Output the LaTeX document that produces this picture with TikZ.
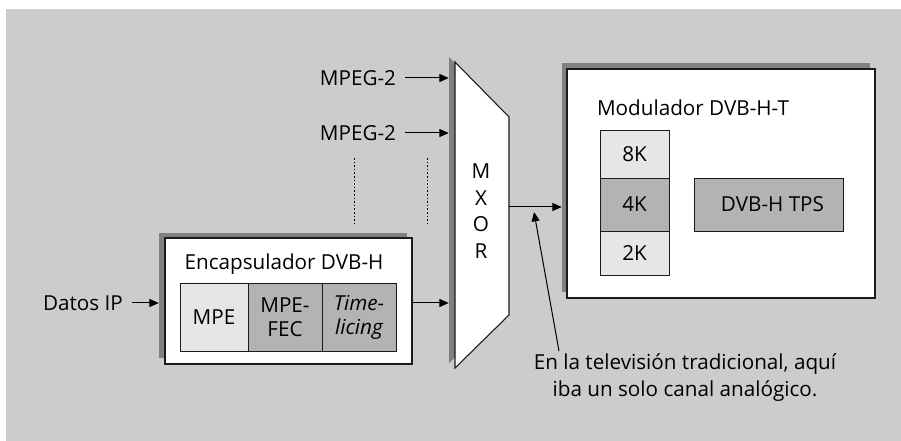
\documentclass[tikz,border=0pt]{standalone}
\usepackage{fontspec}
\setmainfont{Open Sans}
\usetikzlibrary{arrows.meta,fit}
\definecolor{bgc}{HTML}{CCCCCC}
\definecolor{shc}{HTML}{808080}
\definecolor{lightc}{HTML}{E6E6E6}
\definecolor{darkc}{HTML}{B3B3B3}
\definecolor{linec}{HTML}{1A1A1A}
\tikzset{
  box/.style={draw=linec, fill=white, line width=0.8pt, inner sep=0pt},
  shbox/.style={fill=shc, inner sep=0pt},
  cell/.style={draw=linec, line width=0.7pt, inner sep=0pt},
  lbl/.style={inner sep=0pt, font=\fontsize{15.5}{18}\selectfont, text=black, align=center},
  arr/.style={-{Triangle[length=7pt,width=6pt]}, line width=0.75pt, draw=black},
  guide/.style={line width=0.75pt, dash pattern=on 1.2pt off 1.5pt}
}
\begin{document}
\begin{tikzpicture}[x=0.75pt,y=-0.75pt]
\useasboundingbox (0,0) rectangle (901,441);
\fill[bgc] (6,9) rectangle (901,441);

% Encapsulador
\node[shbox, fit={(159,233)(407,358)}] (encsh) {};
\node[box, fit={(165,238)(412,364)}] (enc) {};
\node[lbl] (enctitle) at (284,264) {Encapsulador DVB-H};
\node[cell, fill=lightc, fit={(180,283)(248,351)}] (mpe) {};
\node[cell, fill=darkc, fit={(248,283)(322,351)}] (fec) {};
\node[cell, fill=darkc, fit={(322,283)(396,351)}] (tsl) {};
\node[lbl] at (mpe) {MPE};
\node[lbl] at (fec) {MPE-\\FEC};
\node[lbl, font=\fontsize{15.5}{18}\selectfont\itshape] at (tsl) {Time-\\licing};

% Mux
\node[inner sep=0pt, fit={(449,57)(503,363)}] (muxsh) {};
\node[inner sep=0pt, fit={(455,62)(509,368)}] (mux) {};
\fill[shc] (449,57) -- (503,112) -- (503,310) -- (449,363) -- cycle;
\draw[fill=white, draw=linec, line width=0.8pt] (455,62) -- (509,117) -- (509,315) -- (455,368) -- cycle;
\node[lbl, font=\fontsize{15.5}{20}\selectfont] (muxtext) at (481,211) {M\\X\\O\\R};

% Modulador
\node[shbox, fit={(562,63)(870,292)}] (modsh) {};
\node[box, fit={(567,69)(875,298)}] (mod) {};
\node[lbl] (modtitle) at (693,108) {Modulador DVB-H-T};
\node[cell, fill=lightc, fit={(600,130)(669,178)}] (k8) {};
\node[cell, fill=darkc, fit={(600,178)(669,231)}] (k4) {};
\node[cell, fill=lightc, fit={(600,231)(669,275)}] (k2) {};
\node[cell, fill=darkc, fit={(694,178)(843,231)}] (tps) {};
\node[lbl] at (k8) {8K};
\node[lbl] at (k4) {4K};
\node[lbl] at (k2) {2K};
\node[lbl] at ([xshift=3pt]tps.center) {DVB-H TPS};

% Inputs
\node[lbl] (datos) at (83,303) {Datos IP};
\node[lbl] (mpeg1) at (358,78) {MPEG-2};
\node[lbl] (mpeg2) at (358,133) {MPEG-2};
\draw[arr, shorten <=6.5pt] (datos) -- (datos -| encsh.west);
\draw[arr, shorten <=6.5pt] (mpeg1) -- (mpeg1 -| muxsh.west);
\draw[arr, shorten <=6.5pt] (mpeg2) -- (mpeg2 -| muxsh.west);
\draw[arr] (enc.east |- datos) -- (datos -| muxsh.west);

% dotted guides
\coordinate (g1a) at (354,158); \coordinate (g1b) at (354,225);
\coordinate (g2a) at (427,158); \coordinate (g2b) at (427,225);
\draw[guide] (g1a) -- (g1b);
\draw[guide] (g2a) -- (g2b);

% mux -> modulator
\coordinate (muxout) at (509,207);
\draw[arr] (muxout) -- (muxout -| modsh.west);

% note
\node[lbl, font=\fontsize{15.5}{20.3}\selectfont] (note) at (685,378) {En la televisión tradicional, aquí\\iba un solo canal analógico.};
\coordinate (notestart) at (559,351);
\coordinate (ptr) at (534,212);
\draw[arr] (notestart) -- (ptr);
\end{tikzpicture}
\end{document}
